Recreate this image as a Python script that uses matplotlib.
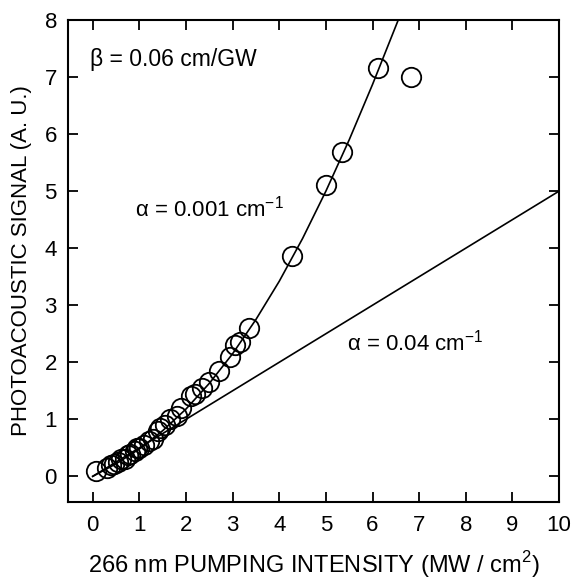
import matplotlib
matplotlib.use("Agg")
import matplotlib.pyplot as plt

plt.rcParams['font.family'] = ['Liberation Sans', 'DejaVu Sans']
plt.rcParams['mathtext.fontset'] = 'custom'
plt.rcParams['mathtext.rm'] = 'Liberation Sans'

# measured data (circles)
data_x = [0.08, 0.3, 0.4, 0.45, 0.55, 0.6, 0.7, 0.75, 0.8, 0.9, 0.95, 1.0, 1.1, 1.2,
          1.3, 1.4, 1.45, 1.55, 1.65, 1.8, 1.9, 2.1, 2.2, 2.35, 2.5, 2.7, 2.95, 3.05,
          3.15, 3.35, 4.28, 5.01, 5.34, 6.11, 6.83]
data_y = [0.1, 0.15, 0.2, 0.22, 0.25, 0.3, 0.3, 0.38, 0.4, 0.45, 0.5, 0.5, 0.55, 0.62,
          0.65, 0.8, 0.85, 0.9, 1.0, 1.05, 1.2, 1.4, 1.45, 1.55, 1.65, 1.85, 2.1, 2.3,
          2.35, 2.6, 3.87, 5.1, 5.68, 7.15, 7.0]

# fit curve alpha = 0.001 cm^-1
fit1_x = [0.0, 0.5, 1.0, 1.5, 2.0, 2.5, 3.0, 3.5, 4.0, 4.5, 5.0, 5.5, 6.0, 6.6]
fit1_y = [0.0, 0.22, 0.48, 0.8, 1.18, 1.63, 2.15, 2.75, 3.42, 4.17, 5.0, 5.9, 6.87, 8.1]

# fit line alpha = 0.04 cm^-1
fit2_x = [0.0, 10.0]
fit2_y = [0.0, 5.0]

x_ticks = list(range(0, 11))
y_ticks = list(range(0, 9))

FS = 16

fig = plt.figure(figsize=(5.74, 5.84), dpi=100)
ax = fig.add_axes([0.1185, 0.1404, 0.974 - 0.1185, 0.9658 - 0.1404])

ax.plot(fit1_x, fit1_y, color='black', lw=1.2)
ax.plot(fit2_x, fit2_y, color='black', lw=1.2)
ax.plot(data_x, data_y, linestyle='none', marker='o', markersize=14,
        markerfacecolor='none', markeredgecolor='black', markeredgewidth=1.3)

ax.set_xlim(-0.53, 10)
ax.set_ylim(-0.45, 8)
ax.set_xticks(x_ticks)
ax.set_yticks(y_ticks)
ax.tick_params(direction='in', length=7, width=1.3, labelsize=FS,
               top=True, right=True)
ax.tick_params(axis='x', pad=9)
ax.tick_params(axis='y', pad=8)
for s in ax.spines.values():
    s.set_linewidth(1.5)

ax.set_xlabel('266 nm PUMPING INTENSITY (MW / cm$^2$)', fontsize=17, labelpad=10)
ax.set_ylabel('PHOTOACOUSTIC SIGNAL (A. U.)', fontsize=FS, labelpad=9)

ax.text(-0.06, 7.3, 'β = 0.06 cm/GW', fontsize=16.5, va='center', ha='left')
ax.text(0.91, 4.7, 'α = 0.001 cm$^{-1}$', fontsize=FS, va='center', ha='left')
ax.text(5.46, 2.35, 'α = 0.04 cm$^{-1}$', fontsize=FS, va='center', ha='left')

fig.savefig('out.png', dpi=100)
